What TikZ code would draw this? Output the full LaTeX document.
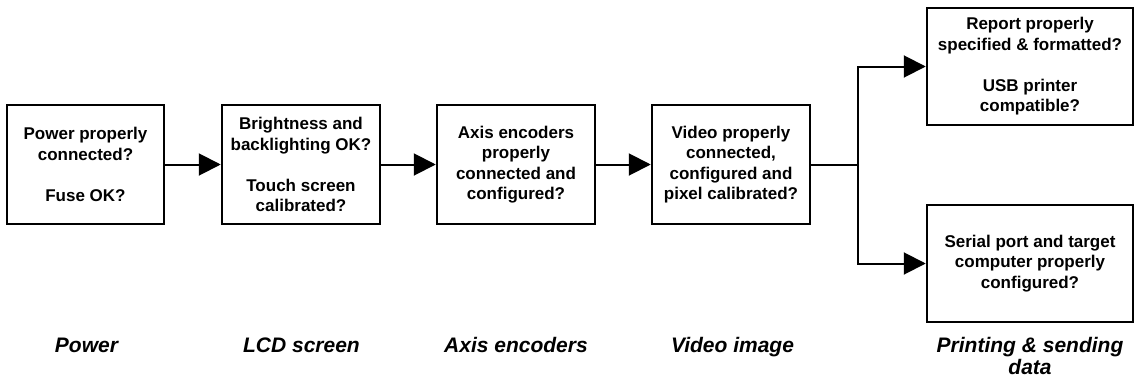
\documentclass[tikz,border=0pt]{standalone}
\usepackage{fontspec}
\setmainfont{Liberation Sans}
\usetikzlibrary{arrows.meta}
\tikzset{
  qbox/.style={draw=black, line width=2.5pt, fill=white, inner sep=0pt, align=center,
    font=\bfseries\fontsize{17}{20.5}\selectfont},
  stagelabel/.style={align=center, anchor=base, inner sep=0pt,
    font=\bfseries\itshape\fontsize{21}{22}\selectfont},
  conn/.style={line width=2pt, -{Triangle[length=22pt,width=22pt]}},
  plainconn/.style={line width=2pt}
}
\begin{document}
\begin{tikzpicture}[x=1pt,y=-1pt]
\useasboundingbox (0,0) rectangle (1135,380);
\node[qbox, minimum width=157pt, minimum height=119pt] (b1) at (85.5,164.5)
  {Power properly\\connected?\\[20.5pt]Fuse OK?};
\node[qbox, minimum width=158pt, minimum height=119pt] (b2) at (301,164.5)
  {Brightness and\\backlighting OK?\\[20.5pt]Touch screen\\calibrated?};
\node[qbox, minimum width=158pt, minimum height=119pt] (b3) at (516,164.5)
  {Axis encoders\\properly\\connected and\\configured?};
\node[qbox, minimum width=158pt, minimum height=119pt] (b4) at (731,164.5)
  {Video properly\\connected,\\configured and\\pixel calibrated?};
\node[qbox, minimum width=206pt, minimum height=117pt] (b5) at (1030,66.5)
  {Report properly\\specified \& formatted?\\[20.5pt]USB printer\\compatible?};
\node[qbox, minimum width=206pt, minimum height=117pt] (b6) at (1030,263.5)
  {Serial port and target\\computer properly\\configured?};
\coordinate (br) at (858,164.5);
\draw[conn] (b1) -- (b2);
\draw[conn] (b2) -- (b3);
\draw[conn] (b3) -- (b4);
\draw[plainconn] (b4.east) -- (br);
\draw[conn] (br) |- (b5.west);
\draw[conn] (br) |- (b6.west);
\node[stagelabel] (l1) at (86.5,352) {Power};
\node[stagelabel] (l2) at (301.5,352) {LCD screen};
\node[stagelabel] (l3) at (516,352) {Axis encoders};
\node[stagelabel] (l4) at (732.5,352) {Video image};
\node[stagelabel] (l5) at (1030,374) {Printing \& sending\\data};
\end{tikzpicture}
\end{document}
